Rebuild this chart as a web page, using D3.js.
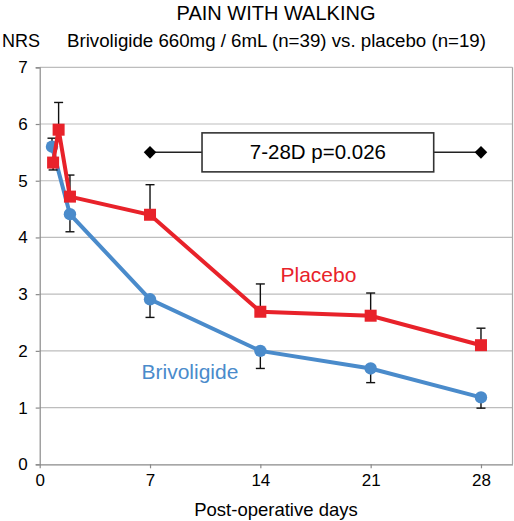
<!DOCTYPE html>
<html>
<head>
<meta charset="utf-8">
<script src="https://cdn.jsdelivr.net/npm/d3@7"></script>
<style>
  html, body { margin: 0; padding: 0; background: #fff; }
  svg text { font-family: "Liberation Sans", Arial, Helvetica, sans-serif; }
</style>
</head>
<body>
<svg id="chart" width="514" height="521"></svg>
<script>
// ---- data ----
const xTicks = [0, 7, 14, 21, 28];
const yTicks = [0, 1, 2, 3, 4, 5, 6, 7];

const placeboDays   = [0.85, 1.2, 1.92, 7, 14, 21, 28];
const placeboValues = [5.32, 5.90, 4.72, 4.40, 2.69, 2.62, 2.10];
const placeboErrEnd = [5.19, 6.38, 5.10, 4.93, 3.18, 3.02, 2.40];

const brivoDays   = [0.78, 1.92, 7, 14, 21, 28];
const brivoValues = [5.60, 4.41, 2.91, 2.00, 1.69, 1.18];
const brivoErrEnd = [5.75, 4.10, 2.59, 1.69, 1.44, 0.99];

const sigDays  = [7, 28];
const sigLevel = 5.5;
const sigLabel = "7-28D p=0.026";

const titleText    = "PAIN WITH WALKING";
const subtitleText = "Brivoligide 660mg / 6mL (n=39) vs. placebo (n=19)";
const yAxisTitle   = "NRS";
const xAxisTitle   = "Post-operative days";
const placeboLabel = "Placebo";
const brivoLabel   = "Brivoligide";

// ---- drawing ----
const RED = "#E8222A", BLUE = "#4A8BCB";
const svg = d3.select("#chart");
const x = d3.scaleLinear().domain([0, 30]).range([39.7, 512.5]);
const y = d3.scaleLinear().domain([0, 7]).range([464.3, 67.3]);

// gridlines
svg.append("g").selectAll("line").data(yTicks.filter(d => d > 0)).join("line")
  .attr("x1", x(0)).attr("x2", x(30))
  .attr("y1", d => y(d)).attr("y2", d => y(d))
  .attr("stroke", "#BDBDBD").attr("stroke-width", 1.2);
// right border
svg.append("line").attr("x1", x(30)).attr("x2", x(30))
  .attr("y1", y(7)).attr("y2", y(0)).attr("stroke", "#A8A8A8").attr("stroke-width", 1.2);

// axes
const yAxis = d3.axisLeft(y).tickValues(yTicks).tickSize(4).tickPadding(8).tickFormat(d3.format("d"));
const gy = svg.append("g").attr("transform", `translate(${x(0)},0)`).call(yAxis);
gy.select(".domain").attr("stroke", "#8A8A8A").attr("stroke-width", 1.2);
gy.selectAll(".tick line").attr("stroke", "#8A8A8A").attr("stroke-width", 1.2);
gy.selectAll(".tick text").attr("font-size", 17).attr("fill", "#000")
  .style("font-family", '"Liberation Sans", Arial, sans-serif');

const xAxis = d3.axisBottom(x).tickValues(xTicks).tickSize(4).tickPadding(6).tickSizeOuter(0);
const gx = svg.append("g").attr("transform", `translate(0,${y(0)})`).call(xAxis);
gx.select(".domain").attr("stroke", "#8A8A8A").attr("stroke-width", 1.2);
gx.selectAll(".tick line").attr("stroke", "#8A8A8A").attr("stroke-width", 1.2);
gx.selectAll(".tick text").attr("font-size", 17).attr("fill", "#000")
  .style("font-family", '"Liberation Sans", Arial, sans-serif');

// significance annotation
svg.append("line").attr("x1", x(sigDays[0])).attr("x2", x(sigDays[1]))
  .attr("y1", y(sigLevel)).attr("y2", y(sigLevel)).attr("stroke", "#222").attr("stroke-width", 1.5);
svg.append("g").selectAll("path").data(sigDays).join("path")
  .attr("d", d3.symbol().type(d3.symbolDiamond2).size(100))
  .attr("transform", d => `translate(${x(d)},${y(sigLevel)})`).attr("fill", "#000");
const boxX0 = x(10.3), boxX1 = x(25.0);
svg.append("rect").attr("x", boxX0).attr("y", y(sigLevel) - 19.5)
  .attr("width", boxX1 - boxX0).attr("height", 39)
  .attr("fill", "#fff").attr("stroke", "#333").attr("stroke-width", 1.6);
svg.append("text").attr("x", (boxX0 + boxX1) / 2).attr("y", y(sigLevel) + 7)
  .attr("text-anchor", "middle").attr("font-size", 20.5).text(sigLabel);

// series helper
function drawSeries(days, vals, errs, color, shape) {
  const pts = days.map((d, i) => ({ d, v: vals[i], e: errs[i] }));
  const g = svg.append("g");
  g.selectAll("line.err").data(pts).join("line")
    .attr("x1", p => x(p.d)).attr("x2", p => x(p.d))
    .attr("y1", p => y(p.v)).attr("y2", p => y(p.e))
    .attr("stroke", "#111").attr("stroke-width", 1.4);
  g.selectAll("line.cap").data(pts).join("line")
    .attr("x1", p => x(p.d) - 4.5).attr("x2", p => x(p.d) + 4.5)
    .attr("y1", p => y(p.e)).attr("y2", p => y(p.e))
    .attr("stroke", "#111").attr("stroke-width", 1.4);
  g.append("path").datum(pts)
    .attr("d", d3.line().x(p => x(p.d)).y(p => y(p.v)))
    .attr("fill", "none").attr("stroke", color).attr("stroke-width", 4).attr("stroke-linejoin", "miter");
  if (shape === "square") {
    g.selectAll("rect.m").data(pts).join("rect")
      .attr("x", p => x(p.d) - 6).attr("y", p => y(p.v) - 6)
      .attr("width", 12).attr("height", 12).attr("fill", color);
  } else {
    g.selectAll("circle.m").data(pts).join("circle")
      .attr("cx", p => x(p.d)).attr("cy", p => y(p.v)).attr("r", 6.2).attr("fill", color);
  }
}
drawSeries(brivoDays, brivoValues, brivoErrEnd, BLUE, "circle");
drawSeries(placeboDays, placeboValues, placeboErrEnd, RED, "square");

// series labels
svg.append("text").attr("x", 280.5).attr("y", 282).attr("font-size", 21).attr("fill", RED).text(placeboLabel);
svg.append("text").attr("x", 141.5).attr("y", 378.5).attr("font-size", 21).attr("fill", BLUE).text(brivoLabel);

// titles
svg.append("text").attr("x", 276).attr("y", 19.5).attr("text-anchor", "middle")
  .attr("font-size", 20).text(titleText);
svg.append("text").attr("x", 67).attr("y", 47).attr("font-size", 18.7).text(subtitleText);
svg.append("text").attr("x", 2).attr("y", 47).attr("font-size", 18).text(yAxisTitle);
svg.append("text").attr("x", 276).attr("y", 516).attr("text-anchor", "middle")
  .attr("font-size", 18.5).text(xAxisTitle);
</script>
</body>
</html>
